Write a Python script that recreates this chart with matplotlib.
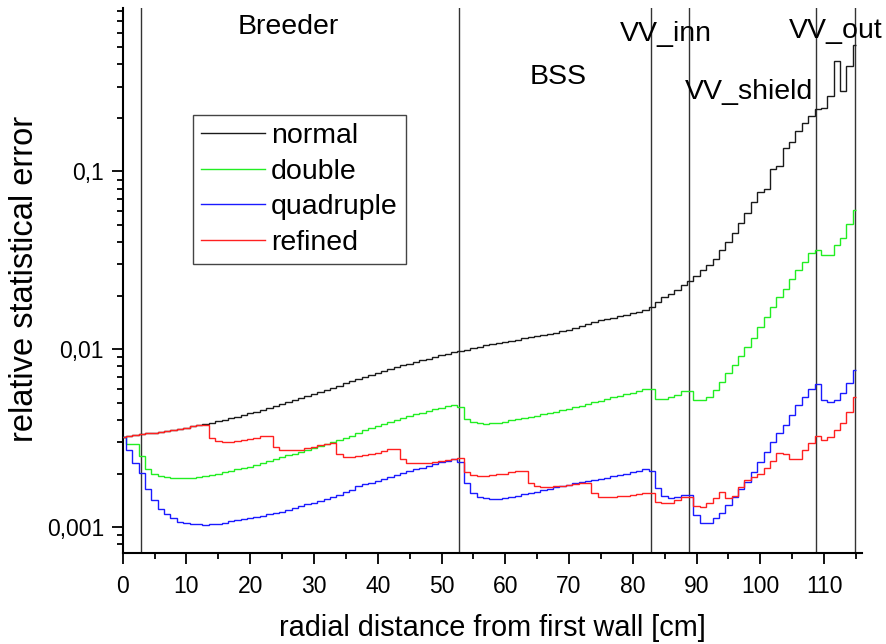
import numpy as np
import matplotlib
matplotlib.use('Agg')
import matplotlib.pyplot as plt
from matplotlib.ticker import FixedLocator, LogLocator, MultipleLocator, FuncFormatter, NullFormatter

plt.rcParams['font.family'] = ['Liberation Sans', 'DejaVu Sans']

# relative error per 1 cm bin (bin centres 0..115 cm), values in units of 1e-3
normal = [3.20, 3.24, 3.28, 3.32, 3.36, 3.40, 3.44, 3.48, 3.53, 3.58,
          3.63, 3.68, 3.74, 3.80, 3.86, 3.93, 4.00, 4.08, 4.16, 4.26,
          4.36, 4.46, 4.57, 4.68, 4.80, 4.93, 5.06, 5.19, 5.33, 5.47,
          5.62, 5.77, 5.93, 6.09, 6.25, 6.42, 6.60, 6.78, 6.97, 7.16,
          7.35, 7.54, 7.73, 7.92, 8.11, 8.30, 8.48, 8.66, 8.84, 9.02,
          9.30, 9.45, 9.60, 9.78, 9.95, 10.1, 10.3, 10.5, 10.7, 10.85,
          11.0, 11.15, 11.3, 11.5, 11.7, 11.85, 12.0, 12.2, 12.4, 12.6,
          12.9, 13.2, 13.5, 13.8, 14.2, 14.6, 14.8, 15.0, 15.3, 15.6,
          15.9, 16.2, 16.6, 17.3, 18.5, 19.7, 20.5, 21.6, 22.9, 24.2,
          25.9, 27.8, 29.6, 32.3, 36.0, 39.9, 45.2, 51.2, 58.3, 67.1,
          76.4, 80.0, 103, 107, 136, 146, 168, 186, 205, 223,
          226, 267, 420, 285, 394, 512]

double = [3.20, 2.94, 2.94, 2.52, 2.13, 2.00, 1.94, 1.91, 1.89, 1.88,
          1.88, 1.89, 1.91, 1.93, 1.96, 1.99, 2.03, 2.07, 2.11, 2.15,
          2.19, 2.24, 2.30, 2.35, 2.41, 2.47, 2.53, 2.59, 2.65, 2.72,
          2.79, 2.86, 2.93, 3.00, 3.08, 3.17, 3.27, 3.40, 3.50, 3.60,
          3.70, 3.80, 3.90, 4.00, 4.10, 4.20, 4.30, 4.40, 4.50, 4.60,
          4.70, 4.78, 4.85, 4.75, 4.07, 3.90, 3.83, 3.82, 3.83, 3.87,
          3.92, 3.98, 4.04, 4.10, 4.16, 4.23, 4.30, 4.38, 4.46, 4.54,
          4.62, 4.72, 4.82, 4.93, 5.04, 5.15, 5.27, 5.37, 5.48, 5.58,
          5.70, 5.82, 5.94, 6.00, 5.28, 5.25, 5.40, 5.56, 5.82, 5.82,
          5.17, 5.17, 5.40, 5.88, 6.56, 7.35, 8.20, 9.13, 10.3, 11.6,
          13.3, 15.1, 17.3, 19.7, 21.9, 24.9, 27.9, 30.9, 34.7, 36.3,
          33.8, 33.8, 38.4, 42.2, 50.9, 60.4]

quadruple = [3.20, 2.71, 2.30, 2.02, 1.63, 1.42, 1.27, 1.19, 1.12, 1.07,
             1.05, 1.04, 1.035, 1.03, 1.035, 1.04, 1.06, 1.08, 1.10, 1.11,
             1.12, 1.14, 1.16, 1.18, 1.20, 1.22, 1.25, 1.28, 1.31, 1.34,
             1.37, 1.40, 1.44, 1.48, 1.52, 1.57, 1.61, 1.70, 1.74, 1.78,
             1.82, 1.86, 1.91, 1.96, 2.01, 2.06, 2.11, 2.16, 2.21, 2.26,
             2.31, 2.36, 2.42, 2.33, 1.76, 1.55, 1.48, 1.45, 1.44, 1.44,
             1.45, 1.47, 1.50, 1.53, 1.55, 1.58, 1.61, 1.64, 1.67, 1.70,
             1.73, 1.76, 1.79, 1.82, 1.84, 1.86, 1.90, 1.93, 1.97, 2.00,
             2.04, 2.08, 2.13, 2.08, 1.65, 1.49, 1.45, 1.47, 1.51, 1.51,
             1.17, 1.06, 1.06, 1.12, 1.20, 1.33, 1.48, 1.64, 1.80, 2.04,
             2.33, 2.65, 3.02, 3.36, 3.74, 4.26, 4.85, 5.40, 5.98, 6.36,
             5.20, 5.04, 5.20, 5.70, 6.50, 7.68]

refined = [3.20, 3.24, 3.28, 3.32, 3.36, 3.40, 3.44, 3.48, 3.53, 3.58,
           3.63, 3.68, 3.74, 3.74, 3.19, 3.05, 3.02, 3.02, 3.04, 3.08,
           3.12, 3.18, 3.25, 3.27, 2.81, 2.71, 2.70, 2.70, 2.73, 2.77,
           2.82, 2.88, 2.93, 2.97, 2.57, 2.49, 2.48, 2.50, 2.53, 2.57,
           2.62, 2.68, 2.74, 2.76, 2.40, 2.29, 2.28, 2.28, 2.30, 2.33,
           2.36, 2.39, 2.43, 2.44, 2.04, 1.96, 1.95, 1.95, 1.96, 1.98,
           2.00, 2.03, 2.07, 2.07, 1.76, 1.70, 1.69, 1.69, 1.70, 1.71,
           1.72, 1.74, 1.76, 1.77, 1.55, 1.48, 1.48, 1.48, 1.49, 1.50,
           1.52, 1.54, 1.56, 1.56, 1.39, 1.36, 1.37, 1.42, 1.48, 1.48,
           1.32, 1.30, 1.36, 1.46, 1.57, 1.45, 1.50, 1.68, 1.84, 1.92,
           1.99, 2.15, 2.36, 2.60, 2.57, 2.43, 2.43, 2.73, 2.96, 3.25,
           3.08, 3.20, 3.51, 3.87, 4.45, 5.40]

series = [('normal', normal, '#1a1a1a'),
          ('double', double, '#22ee22'),
          ('quadruple', quadruple, '#1a1aff'),
          ('refined', refined, '#ff2020')]

# region boundaries [cm] and names
boundaries = [2.8, 52.8, 82.8, 88.8, 108.8, 114.8]
regions = ['Breeder', 'BSS', 'VV_inn', 'VV_shield', 'VV_out']
region_x = [25.9, 68.3, 85.2, 98.2, 111.8]
region_y = [0.65, 0.34, 0.595, 0.278, 0.62]

centres = np.arange(len(normal))
edges = np.concatenate(([0], centres[:-1] + 0.5, [centres[-1]]))

fig = plt.figure(figsize=(8.87, 6.44), dpi=100)
ax = fig.add_axes([0.1383, 0.1413, 0.8332, 0.8463])

for name, vals, col in series:
    ax.stairs(np.array(vals) * 1e-3, edges, baseline=None, color=col, lw=1.0, label=name, zorder=3)

for b in boundaries:
    ax.axvline(b, color='#333333', lw=1.0, zorder=2)

for name, xx, yy in zip(regions, region_x, region_y):
    ax.text(xx, yy, name, ha='center', va='center', fontsize=20.5, zorder=4, clip_on=False)

ax.set_yscale('log')
ax.set_xlim(0, 115.9)
ax.set_ylim(7.15e-4, 0.83)

ax.yaxis.set_major_locator(FixedLocator([0.001, 0.01, 0.1]))
ax.yaxis.set_major_formatter(FuncFormatter(lambda v, p: {0.001: '0,001', 0.01: '0,01', 0.1: '0,1'}.get(round(v, 4), '')))
ax.yaxis.set_minor_locator(LogLocator(base=10, subs=np.arange(2, 10)))
ax.yaxis.set_minor_formatter(NullFormatter())
ax.xaxis.set_major_locator(MultipleLocator(10))
ax.xaxis.set_minor_locator(MultipleLocator(5))

ax.spines['top'].set_visible(False)
ax.spines['right'].set_visible(False)
ax.spines['left'].set_linewidth(1.5)
ax.spines['bottom'].set_linewidth(1.5)
ax.tick_params(which='major', direction='out', length=8, width=1.3, labelsize=16.5)
ax.tick_params(which='minor', direction='out', length=4.5, width=1.3)
ax.tick_params(axis='x', which='major', pad=8)
ax.tick_params(axis='y', which='major', pad=5.5)

ax.set_xlabel('radial distance from first wall [cm]', fontsize=20.8)
ax.set_ylabel('relative statistical error', fontsize=23.5)
ax.xaxis.set_label_coords(0.5, -0.112)
ax.yaxis.set_label_coords(-0.112, 0.503)

leg = ax.legend(loc='upper left', bbox_to_anchor=(0.095, 0.804), borderaxespad=0,
                fontsize=20.5, handlelength=2.25, handletextpad=0.2, labelspacing=0.33,
                fancybox=False, framealpha=1, edgecolor='#444444', borderpad=0.3)
leg.get_frame().set_linewidth(1.0)

plt.savefig('out.png', dpi=100)
